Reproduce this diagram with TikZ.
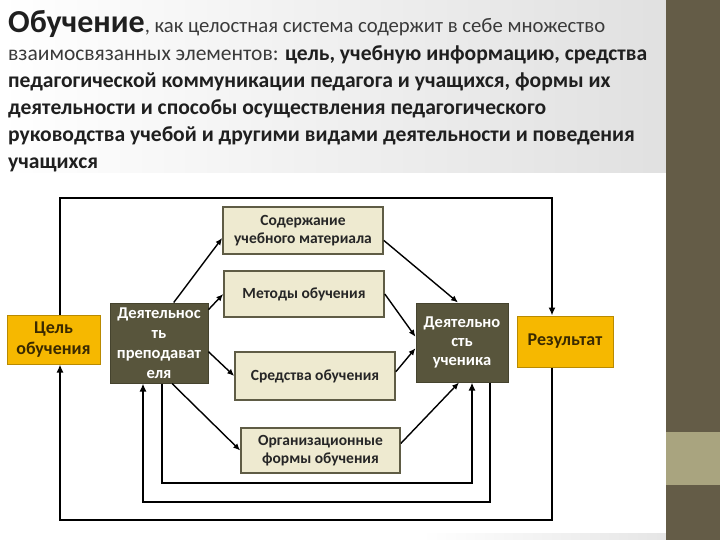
\documentclass[tikz,border=0pt]{standalone}
\usepackage{fontspec}
\setmainfont{Carlito}
\usetikzlibrary{arrows.meta,calc}
\definecolor{stripdark}{HTML}{645C47}
\definecolor{striplight}{HTML}{A9A47F}
\definecolor{beige}{HTML}{EEEAD0}
\definecolor{beigeedge}{HTML}{5F5C45}
\definecolor{olive}{HTML}{58553C}
\definecolor{oliveedge}{HTML}{45432E}
\definecolor{gold}{HTML}{F6B800}
\definecolor{goldedge}{HTML}{B98A00}
\definecolor{goldtext}{HTML}{3A2A00}
\definecolor{titlegray}{HTML}{3A3A3A}
\tikzset{
  beigebox/.style={draw=beigeedge, line width=1.6pt, fill=beige, text=black!85,
    font=\bfseries\fontsize{15.5}{18.5}\selectfont, align=center, inner sep=0pt},
  olivebox/.style={draw=oliveedge, line width=1pt, fill=olive, text=white,
    font=\bfseries\fontsize{16.5}{20}\selectfont, align=center, inner sep=0pt},
  goldbox/.style={draw=goldedge, line width=1pt, fill=gold, text=goldtext,
    font=\bfseries\fontsize{18}{21}\selectfont, align=center, inner sep=0pt},
  loopline/.style={line width=2.4pt, line join=miter, -{Latex[length=8pt,width=7pt]}},
  diagline/.style={line width=1.4pt, -{Latex[length=7pt,width=6pt]}},
  titleline/.style={anchor=base west, inner sep=0pt, font=\bfseries\fontsize{21.6}{27}\selectfont, text=black!88}
}
\begin{document}
\begin{tikzpicture}[x=1pt,y=-1pt]
\useasboundingbox (0,0) rectangle (720,540);
% background
\fill[white] (0,0) rectangle (720,540);
\shade[left color=white, right color=black!12] (0,0) rectangle (666,173);
\shade[left color=white, right color=black!10] (422,533) rectangle (666,540);
\fill[stripdark] (666,0) rectangle (720,540);
\fill[striplight] (666,432) rectangle (720,485);

% title text
\node[titleline] (t1) at (8,33) {{\fontsize{32}{34}\selectfont Обучение}\textcolor{titlegray}{\mdseries\fontsize{20.7}{27}\selectfont, как целостная система содержит в себе множество}};
\node[titleline] (t2) at (8,61) {\textcolor{titlegray}{\mdseries\fontsize{21.5}{27}\selectfont взаимосвязанных элементов: }цель, учебную информацию, средства};
\node[titleline] (t3) at (8,88) {педагогической коммуникации педагога и учащихся, формы их};
\node[titleline] (t4) at (8,115) {деятельности и способы осуществления педагогического};
\node[titleline] (t5) at (8,142) {руководства учебой и другими видами деятельности и поведения};
\node[titleline] (t6) at (8,169) {учащихся};

% boxes
\node[goldbox, minimum width=93pt, minimum height=49pt] (cel) at (53.5,339.5) {Цель\\обучения};
\node[olivebox, minimum width=98pt, minimum height=80pt] (prep) at (159,343) {Деятельнос\\ть\\преподават\\еля};
\node[beigebox, minimum width=160pt, minimum height=47pt] (sod) at (303,230.5) {Содержание\\учебного материала};
\node[beigebox, minimum width=160pt, minimum height=46pt] (met) at (304,294) {Методы обучения};
\node[beigebox, minimum width=160pt, minimum height=48pt] (sred) at (315,376) {Средства обучения};
\node[beigebox, minimum width=159pt, minimum height=45pt] (org) at (320.5,450.5) {Организационные\\формы обучения};
\node[olivebox, minimum width=92pt, minimum height=79pt, font=\bfseries\fontsize{16.5}{19}\selectfont] (uch) at (462,342.5) {Деятельно\\сть\\ученика};
\node[goldbox, minimum width=96pt, minimum height=51pt] (res) at (565,341.5) {Результат};

% loop corner coordinates
\coordinate (tl) at (60,198);
\coordinate (tr) at (552,198);
\coordinate (bl) at (60,520);
\coordinate (br) at (552,520);
\coordinate (ml) at (143,502);
\coordinate (mr) at (490,502);
\coordinate (il) at (162,483);
\coordinate (ir) at (472,483);

% loops
\draw[loopline] (cel.north -| tl) -- (tl) -- (tr) -- (res.north -| tr);
\draw[loopline] (res.south -| br) -- (br) -- (bl) -- (cel.south -| bl);
\draw[loopline, line width=2.2pt] (uch.south -| mr) -- (mr) -- (ml) -- (prep.south -| ml);
\draw[loopline, line width=2pt] (prep.south -| il) -- (il) -- (ir) -- (uch.south -| ir);

% diagonals from teacher activity
\draw[diagline] (prep.70) -- (sod.west |- 0,238);
\draw[diagline] (prep.34) -- (met.west);
\draw[diagline] (prep.-10) -- (sred.west);
\draw[diagline] ($(prep.south)+(13,0)$) -- (org.west);
% diagonals to student activity
\draw[diagline] (sod.-7) -- ($(uch.north)+(-4,0)$);
\draw[diagline] (met.east) -- (uch.173);
\draw[diagline] (sred.3) -- (uch.187);
\draw[diagline] (org.5) -- ($(uch.south)+(-3,0)$);
\end{tikzpicture}
\end{document}
